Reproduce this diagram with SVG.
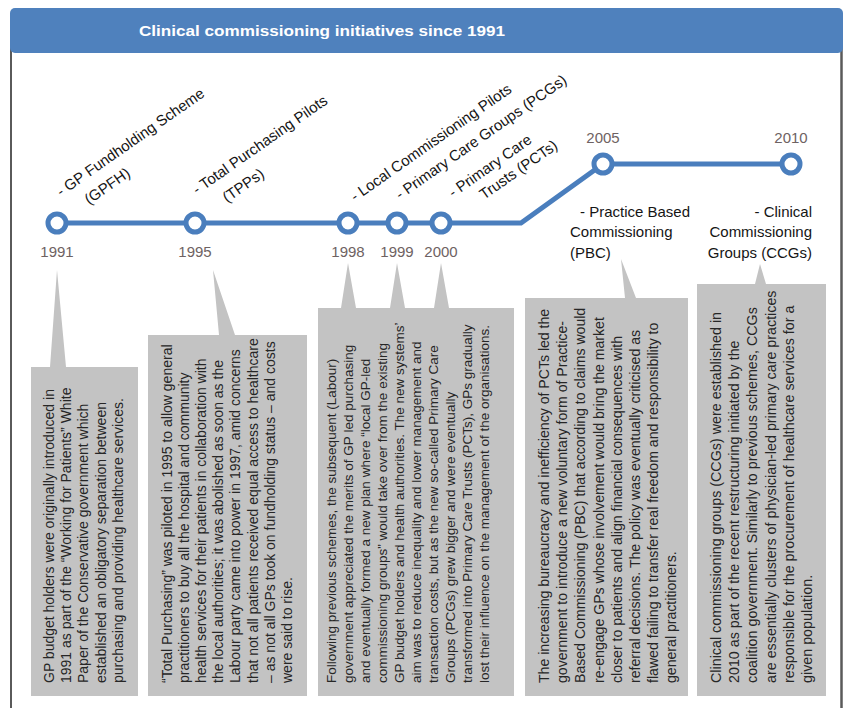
<svg xmlns="http://www.w3.org/2000/svg" width="848" height="708" viewBox="0 0 848 708">
<style>
.title{font-family:"Liberation Sans",Arial,sans-serif;font-weight:bold;font-size:15px;fill:#ffffff}
.lab{font-family:"Liberation Sans",Arial,sans-serif;font-size:15px;fill:#151515}
.yr{font-family:"Liberation Sans",Arial,sans-serif;font-size:15px;fill:#6e6262;text-anchor:middle}
.box{fill:#c3c3c3}
.bt{font-family:"Liberation Sans",Arial,sans-serif;font-size:14px;fill:#262626}
.bt3{font-family:"Liberation Sans",Arial,sans-serif;font-size:13.5px;fill:#262626}
.bt4{font-family:"Liberation Sans",Arial,sans-serif;font-size:14.1px;fill:#262626}
.bt5{font-family:"Liberation Sans",Arial,sans-serif;font-size:14.3px;fill:#262626}
.tl{fill:none;stroke:#4a7ebd;stroke-width:5}
.node{fill:#ffffff;stroke:#4a7ebd;stroke-width:5}
</style>
<rect x="0" y="0" width="848" height="708" fill="#ffffff"/>
<g id="frame">
<line x1="11" y1="48" x2="11" y2="708" stroke="#5a5a5a" stroke-width="2"/>
<line x1="841.5" y1="48" x2="841.5" y2="708" stroke="#5a5a5a" stroke-width="2.5"/>
<rect x="10" y="8" width="833" height="45" rx="5" fill="#4f81bd"/>
<text class="title" x="139" y="36" textLength="366" lengthAdjust="spacingAndGlyphs">Clinical commissioning initiatives since 1991</text>
</g>
<g id="connectors">
<path class="tl" d="M57,223 H521 L603,164 H791"/>
</g>
<g id="n1991">
<circle class="node" cx="57" cy="223" r="9"/>
<text class="yr" x="57" y="257">1991</text>
<text class="lab" transform="translate(61,197) rotate(-35)">- GP Fundholding Scheme</text>
<text class="lab" transform="translate(89,205) rotate(-35)">(GPFH)</text>
<path class="box" d="M57,270 L66,367 H138 V696 H31 V367 H50 Z"/>
<text class="bt" transform="translate(54,683) rotate(-90)"><tspan x="0" dy="0">GP budget holders were originally introduced in</tspan><tspan x="0" dy="17.2">1991 as part of the “Working for Patients” White</tspan><tspan x="0" dy="17.2">Paper of the Conservative government which</tspan><tspan x="0" dy="17.2">established an obligatory separation between</tspan><tspan x="0" dy="17.2">purchasing and providing healthcare services.</tspan></text>
</g>
<g id="n1995">
<circle class="node" cx="195" cy="223" r="9"/>
<text class="yr" x="195" y="257">1995</text>
<text class="lab" transform="translate(197,195) rotate(-35)">- Total Purchasing Pilots</text>
<text class="lab" transform="translate(227,203) rotate(-35)">(TPPs)</text>
<path class="box" d="M213,270 L235,335 H307 V696 H148 V335 H219 Z"/>
<text class="bt" transform="translate(172,683) rotate(-90)"><tspan x="0" dy="0">“Total Purchasing” was piloted in 1995 to allow general</tspan><tspan x="0" dy="17.1">practitioners to buy all the hospital and community</tspan><tspan x="0" dy="17.1">health services for their patients in collaboration with</tspan><tspan x="0" dy="17.1">the local authorities; it was abolished as soon as the</tspan><tspan x="0" dy="17.1">Labour party came into power in 1997, amid concerns</tspan><tspan x="0" dy="17.1">that not all patients received equal access to healthcare</tspan><tspan x="0" dy="17.1">– as not all GPs took on fundholding status – and costs</tspan><tspan x="0" dy="17.1">were said to rise.</tspan></text>
</g>
<g id="n1998-2000">
<circle class="node" cx="348" cy="223" r="9"/>
<circle class="node" cx="397" cy="223" r="9"/>
<circle class="node" cx="441" cy="223" r="9"/>
<text class="yr" x="348" y="257">1998</text>
<text class="yr" x="397" y="257">1999</text>
<text class="yr" x="441" y="257">2000</text>
<text class="lab" transform="translate(355,202) rotate(-35)">- Local Commissioning Pilots</text>
<text class="lab" transform="translate(400,200) rotate(-35)">- Primary Care Groups (PCGs)</text>
<text class="lab" transform="translate(453,198) rotate(-35)">- Primary Care</text>
<text class="lab" transform="translate(484,200) rotate(-35)">Trusts (PCTs)</text>
<path class="box" d="M318,308 H341 L348,263 L356,308 H390 L397,263 L405,308 H434 L441,263 L449,308 H514 V696 H318 Z"/>
<text class="bt3" transform="translate(336,683) rotate(-90)"><tspan x="0" dy="0">Following previous schemes, the subsequent (Labour)</tspan><tspan x="0" dy="17">government appreciated the merits of GP led purchasing</tspan><tspan x="0" dy="17">and eventually formed a new plan where “local GP-led</tspan><tspan x="0" dy="17">commissioning groups” would take over from the existing</tspan><tspan x="0" dy="17">GP budget holders and health authorities. The new systems’</tspan><tspan x="0" dy="17">aim was to reduce inequality and lower management and</tspan><tspan x="0" dy="17">transaction costs, but as the new so-called Primary Care</tspan><tspan x="0" dy="17">Groups (PCGs) grew bigger and were eventually</tspan><tspan x="0" dy="17">transformed into Primary Care Trusts (PCTs), GPs gradually</tspan><tspan x="0" dy="17">lost their influence on the management of the organisations.</tspan></text>
</g>
<g id="n2005">
<circle class="node" cx="603" cy="164" r="9"/>
<text class="yr" x="603" y="143">2005</text>
<text class="lab" x="580" y="217">- Practice Based</text>
<text class="lab" x="570" y="237">Commissioning</text>
<text class="lab" x="570" y="258">(PBC)</text>
<path class="box" d="M621,259 L636,298 H688 V696 H525 V298 H625 Z"/>
<text class="bt4" transform="translate(549,683) rotate(-90)"><tspan x="0" dy="0">The increasing bureaucracy and inefficiency of PCTs led the</tspan><tspan x="0" dy="18.2">government to introduce a new voluntary form of Practice-</tspan><tspan x="0" dy="18.2">Based Commissioning (PBC) that according to claims would</tspan><tspan x="0" dy="18.2">re-engage GPs whose involvement would bring the market</tspan><tspan x="0" dy="18.2">closer to patients and align financial consequences with</tspan><tspan x="0" dy="18.2">referral decisions. The policy was eventually criticised as</tspan><tspan x="0" dy="18.2">flawed failing to transfer real freedom and responsibility to</tspan><tspan x="0" dy="18.2">general practitioners.</tspan></text>
</g>
<g id="n2010">
<circle class="node" cx="791" cy="164" r="9"/>
<text class="yr" x="791" y="143">2010</text>
<text class="lab" x="812" y="217" text-anchor="end">- Clinical</text>
<text class="lab" x="812" y="237" text-anchor="end">Commissioning</text>
<text class="lab" x="812" y="258" text-anchor="end">Groups (CCGs)</text>
<path class="box" d="M760,264 L766,284 H826 V696 H697 V284 H755 Z"/>
<text class="bt5" transform="translate(721,683) rotate(-90)"><tspan x="0" dy="0">Clinical commissioning groups (CCGs) were established in</tspan><tspan x="0" dy="18.2">2010 as part of the recent restructuring initiated by the</tspan><tspan x="0" dy="18.2">coalition government. Similarly to previous schemes, CCGs</tspan><tspan x="0" dy="18.2">are essentially clusters of physician-led primary care practices</tspan><tspan x="0" dy="18.2">responsible for the procurement of healthcare services for a</tspan><tspan x="0" dy="18.2">given population.</tspan></text>
</g>
</svg>
